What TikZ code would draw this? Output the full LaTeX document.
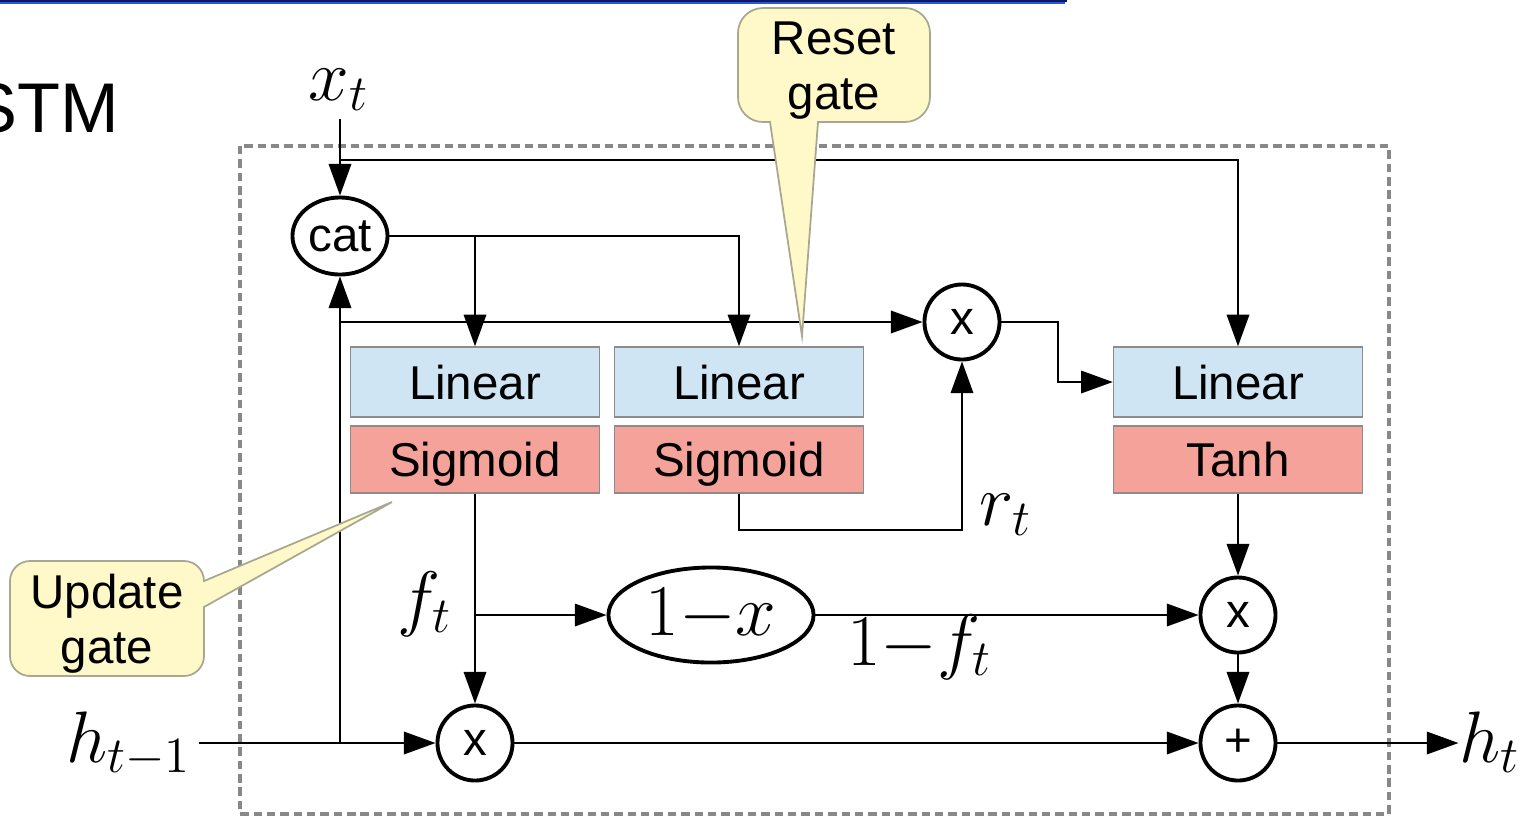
\documentclass[tikz,border=0pt]{standalone}
\usepackage{fontspec}
\setmainfont{Liberation Sans}
\usetikzlibrary{arrows.meta, shapes.geometric}

\definecolor{linearblue}{HTML}{CFE5F3}
\definecolor{actred}{HTML}{F5A29A}
\definecolor{noteyellow}{HTML}{FFF9C9}
\definecolor{noteedge}{HTML}{A8A890}
\definecolor{framegray}{HTML}{888888}
\definecolor{slidenavy}{HTML}{0B1A66}
\definecolor{slideblue}{HTML}{2E55D8}

\begin{document}
\begin{tikzpicture}[
        x = 0.01cm, y = -0.01cm, % work in pixels, y pointing down
        > = {Triangle[length=9pt, width=6.4pt]}, % arrow head style
        line width = 0.5pt % line style
    ]

    \tikzstyle{block}=[
    draw = black!45,
    line width = 0.4pt,
    minimum width = 2.49cm,
    inner sep = 0pt,
    text depth = 0pt,
    font = \fontsize{13.5}{16}\selectfont
    ]
    \tikzstyle{linear}=[block, fill = linearblue, minimum height = 0.70cm]
    \tikzstyle{activ}=[block, fill = actred, minimum height = 0.67cm]
    \tikzstyle{op}=[
    draw = black,
    circle,
    line width = 1.1pt,
    minimum size = 0.75cm,
    inner sep = 0pt,
    font = \fontsize{13.5}{16}\selectfont
    ]
    \tikzstyle{var}=[inner sep = 2pt, font = \fontsize{20}{24}\selectfont]
    \tikzstyle{note}=[fill = noteyellow, draw = noteedge, line width = 0.5pt]
    \tikzstyle{notetext}=[align = center, inner sep = 0pt, font = \fontsize{13.5}{15.6}\selectfont]

    \useasboundingbox (0,0) rectangle (1523,817);

    % slide header
    \fill[slidenavy] (0,0) rectangle (1067,2.2);
    \fill[slideblue] (0,2.2) rectangle (1065,3.6);
    \node[anchor = base east, inner sep = 0pt, font = \fontsize{20}{24}\selectfont] (title) at (120,132) {STM};

    % cell frame
    \draw[framegray, line width = 0.9pt, dash pattern = on 2.4pt off 1.4pt] (240,146) rectangle (1389,814);

    % inputs and outputs
    \node[var, anchor = base] (xt) at (339,100) {$x_t$};
    \node[var, anchor = base east] (hprev) at (199,762) {$h_{t-1}$};
    \node[var, anchor = base east, inner sep = 0pt] (ht) at (1521,762) {$h_t$};

    % operations
    \node[ellipse, draw, line width = 1.1pt, minimum width = 0.95cm, minimum height = 0.77cm,
        inner sep = 0pt, text depth = 0pt, font = \fontsize{13.5}{16}\selectfont] (cat) at (340,236) {cat};
    \node[linear] (lin1) at (475,382) {Linear};
    \node[activ] (sig1) at (475,459.5) {Sigmoid};
    \node[linear] (lin2) at (739,382) {Linear};
    \node[activ] (sig2) at (739,459.5) {Sigmoid};
    \node[linear] (lin3) at (1238,382) {Linear};
    \node[activ] (tanh) at (1238,459.5) {Tanh};
    \node[op] (rmul) at (962,322) {x};
    \node[ellipse, draw, line width = 1.1pt, minimum width = 2.05cm, minimum height = 0.95cm,
        inner sep = 0pt, font = \fontsize{20}{24}\selectfont] (onem) at (711,615) {$1{-}x$};
    \node[op] (cmul) at (1238,615) {x};
    \node[op] (fmul) at (475,743) {x};
    \node[op] (add) at (1238,743) {+};

    % branch points
    \coordinate (xsplit) at (340,160);
    \coordinate (hsplit) at (340,743);
    \coordinate (hbranch) at (340,322);
    \coordinate (rbend) at (1058,322);
    \coordinate (rcorner) at (962,530);
    \coordinate (fsplit) at (475,615);

    \draw[->] (xt.south -| cat) -- (cat);
    \draw[->] (xsplit) -| (lin3);
    \draw[->] (cat) -| (lin1);
    \draw[->] (cat) -| (lin2);
    \draw[->] (hprev.east |- hsplit) -- (fmul);
    \draw[->] (hsplit) -- (cat);
    \draw[->] (hbranch) -- (rmul);
    \draw[->] (rmul) -- (rbend) |- (lin3);
    \draw[->] (sig2) |- (rcorner) -- (rmul);
    \draw[->] (sig1) -- (fmul);
    \draw[->] (fsplit) -- (onem);
    \draw[->] (onem) -- (cmul);
    \draw[->] (tanh) -- (cmul);
    \draw[->] (cmul) -- (add);
    \draw[->] (fmul) -- (add);
    \draw[->] (add) -- (ht.west |- add);

    % gate signals
    \node[var, anchor = base west] (rt) at (972,525) {$r_t$};
    \node[var, anchor = base east] (ft) at (460,622) {$f_t$};
    \node[var, anchor = base] (onemf) at (920,665) {$1{-}f_t$};

    % callouts
    \filldraw[note] (802,336) -- (818,122) -- (905,122) arc[start angle = 90, end angle = 0, radius = 25]
        -- (930,33) arc[start angle = 0, end angle = -90, radius = 25]
        -- (763,8) arc[start angle = -90, end angle = -180, radius = 25]
        -- (738,97) arc[start angle = 180, end angle = 90, radius = 25]
        -- (770,122) -- cycle;
    \node[notetext] (resetnote) at (834,71) {Reset\\gate};
    \filldraw[note] (392,502) -- (204,607) -- (204,656) arc[start angle = 0, end angle = 90, radius = 20]
        -- (30,676) arc[start angle = 90, end angle = 180, radius = 20]
        -- (10,581) arc[start angle = 180, end angle = 270, radius = 20]
        -- (184,561) arc[start angle = 270, end angle = 360, radius = 20]
        -- cycle;
    \node[notetext] (updatenote) at (107,624) {Update\\gate};
\end{tikzpicture}
\end{document}
